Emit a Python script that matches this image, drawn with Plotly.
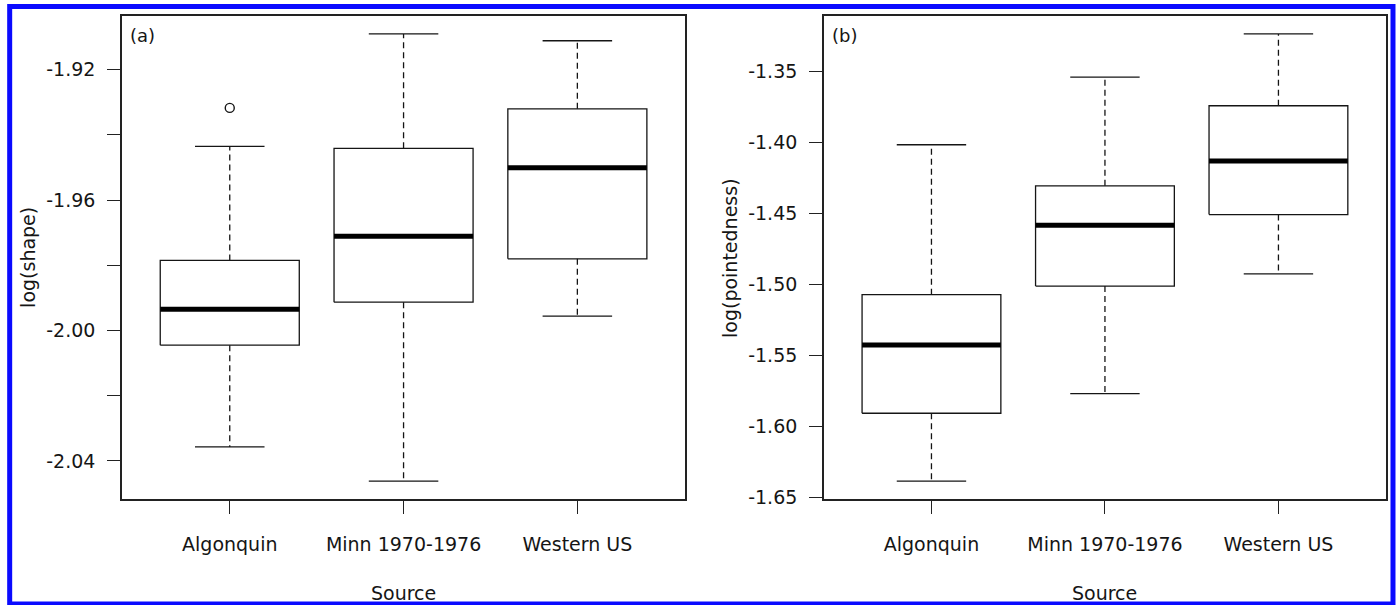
import plotly.graph_objects as go

# ---------------- data ----------------
categories = ["Algonquin", "Minn 1970-1976", "Western US"]

shape_lower = [-2.0357, -2.0462, -1.9956]
shape_q1 = [-2.0045, -1.9913, -1.9780]
shape_median = [-1.9935, -1.9711, -1.9501]
shape_q3 = [-1.9785, -1.9441, -1.9320]
shape_upper = [-1.9435, -1.9090, -1.9111]
shape_outlier_cat = ["Algonquin"]
shape_outlier_val = [-1.9317]

point_lower = [-1.6385, -1.5769, -1.4925]
point_q1 = [-1.5907, -1.5011, -1.4508]
point_median = [-1.5427, -1.4583, -1.4130]
point_q3 = [-1.5072, -1.4305, -1.3741]
point_upper = [-1.4016, -1.3539, -1.3235]
point_outlier_cat = []
point_outlier_val = []

shape_ticks = [-2.04, -2.02, -2.00, -1.98, -1.96, -1.94, -1.92]
shape_ticklabels = ["-2.04", "", "-2.00", "", "-1.96", "", "-1.92"]
point_ticks = [-1.65, -1.60, -1.55, -1.50, -1.45, -1.40, -1.35]
point_ticklabels = ["-1.65", "-1.60", "-1.55", "-1.50", "-1.45", "-1.40", "-1.35"]

# ---------------- styling ----------------
FONT = "DejaVu Sans, Verdana, sans-serif"
FS = 19
INK = "#151515"
BOX_HALF = 0.4
CAP_HALF = 0.2

fig = go.Figure()


def add_panel(xa, ya, lower, q1, med, q3, upper, out_cat, out_val):
    bx, by, mx, my, wx, wy, cx, cy = [], [], [], [], [], [], [], []
    for i, _ in enumerate(categories):
        c = i + 1
        bx += [c - BOX_HALF, c + BOX_HALF, c + BOX_HALF, c - BOX_HALF, c - BOX_HALF, None]
        by += [q1[i], q1[i], q3[i], q3[i], q1[i], None]
        mx += [c - BOX_HALF, c + BOX_HALF, None]
        my += [med[i], med[i], None]
        wx += [c, c, None, c, c, None]
        wy += [q3[i], upper[i], None, q1[i], lower[i], None]
        cx += [c - CAP_HALF, c + CAP_HALF, None, c - CAP_HALF, c + CAP_HALF, None]
        cy += [upper[i], upper[i], None, lower[i], lower[i], None]
    common = dict(xaxis=xa, yaxis=ya, mode="lines", showlegend=False, hoverinfo="skip")
    fig.add_trace(go.Scatter(x=wx, y=wy, line=dict(color=INK, width=1.3, dash="6px,4px"), **common))
    fig.add_trace(go.Scatter(x=cx, y=cy, line=dict(color=INK, width=1.3), **common))
    fig.add_trace(go.Scatter(x=bx, y=by, line=dict(color=INK, width=1.3), **common))
    fig.add_trace(go.Scatter(x=mx, y=my, line=dict(color="#000000", width=5), **common))
    if out_val:
        fig.add_trace(go.Scatter(
            x=[categories.index(k) + 1 for k in out_cat], y=out_val, xaxis=xa, yaxis=ya,
            mode="markers", showlegend=False, hoverinfo="skip",
            marker=dict(symbol="circle-open", size=9, color=INK, line=dict(width=1.4))))
    lo = min(lower + out_val)
    hi = max(upper + out_val)
    pad = 0.04 * (hi - lo)
    return [lo - pad, hi + pad]


yr1 = add_panel("x", "y", shape_lower, shape_q1, shape_median, shape_q3, shape_upper,
                shape_outlier_cat, shape_outlier_val)
yr2 = add_panel("x2", "y2", point_lower, point_q1, point_median, point_q3, point_upper,
                point_outlier_cat, point_outlier_val)

n = len(categories)
xr = [0.5 - 0.04 * n, n + 0.5 + 0.04 * n]

axis_common = dict(showgrid=False, zeroline=False, showline=True, mirror=True,
                   linecolor="#222222", linewidth=1.5, ticks="outside", ticklen=13,
                   tickwidth=1.4, tickcolor="#222222",
                   tickfont=dict(family=FONT, size=FS, color=INK))

xaxis_common = dict(axis_common, range=xr, tickmode="array",
                    tickvals=list(range(1, n + 1)), ticktext=categories,
                    ticklabelstandoff=14)

fig.update_layout(
    width=1400, height=605,
    margin=dict(l=122, r=12, t=16, b=106),
    paper_bgcolor="white", plot_bgcolor="white",
    font=dict(family=FONT, size=FS, color=INK),
    xaxis=dict(xaxis_common, domain=[0, 0.4455], anchor="y"),
    xaxis2=dict(xaxis_common, domain=[0.5553, 1], anchor="y2"),
    yaxis=dict(axis_common, range=yr1, tickmode="array", tickvals=shape_ticks,
               ticktext=shape_ticklabels, anchor="x", ticklabelstandoff=8),
    yaxis2=dict(axis_common, range=yr2, tickmode="array", tickvals=point_ticks,
                ticktext=point_ticklabels, anchor="x2", ticklabelstandoff=8),
    showlegend=False,
)

ann = []
for xr_, yr_, tag, ytitle in [("x", "y", "(a)", "log(shape)"),
                               ("x2", "y2", "(b)", "log(pointedness)")]:
    ann.append(dict(xref=f"{xr_} domain", yref=f"{yr_} domain", x=0.01, y=0.985,
                    xanchor="left", yanchor="top", text=tag, showarrow=False,
                    font=dict(family=FONT, size=FS - 1, color=INK)))
    ann.append(dict(xref=f"{xr_} domain", yref=f"{yr_} domain", x=-0.168, y=0.5,
                    xanchor="center", yanchor="middle", text=ytitle, textangle=-90,
                    showarrow=False, font=dict(family=FONT, size=FS, color=INK)))
    ann.append(dict(xref=f"{xr_} domain", yref=f"{yr_} domain", x=0.5, y=-0.195,
                    xanchor="center", yanchor="middle", text="Source",
                    showarrow=False, font=dict(family=FONT, size=FS, color=INK)))
fig.update_layout(annotations=ann)

# blue frame around the whole figure
fig.add_shape(type="rect", xref="paper", yref="paper",
              x0=(9.5 - 122) / 1266, x1=(1395 - 122) / 1266,
              y0=(499 - 604) / 483, y1=(499 - 6.5) / 483,
              line=dict(color="#0a0aff", width=5), fillcolor="rgba(0,0,0,0)", layer="above")

fig.write_html("out.html", config={"displayModeBar": False},
               post_script="document.body.style.margin='0';document.body.style.padding='0';"
                           "document.body.style.overflow='hidden';")
